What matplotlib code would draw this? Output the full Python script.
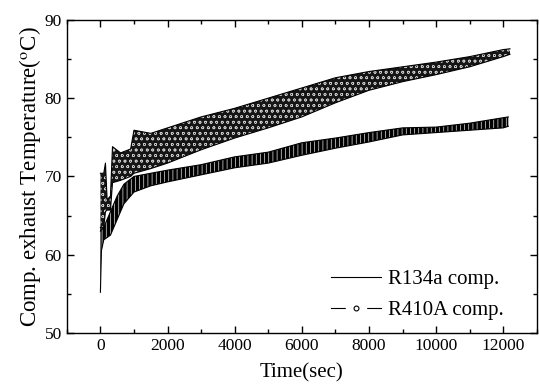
import matplotlib
matplotlib.use("Agg")
import matplotlib.pyplot as plt
from matplotlib.lines import Line2D
from matplotlib.ticker import MultipleLocator

plt.rcParams["font.family"] = ["Liberation Serif", "DejaVu Serif"]
plt.rcParams["mathtext.fontset"] = "stix"
plt.rcParams["hatch.linewidth"] = 0.45

# envelopes (time in sec, temperature in C)
t_r134a = [0, 30, 100, 300, 500, 700, 1000, 1500, 2000, 3000, 4000, 5000,
           6000, 7000, 8000, 9000, 10000, 11000, 12000, 12150]
lo_r134a = [55.2, 60.5, 61.9, 62.5, 64.5, 66.5, 68.0, 68.8, 69.3, 70.2, 71.1, 71.7,
            72.7, 73.6, 74.4, 75.3, 75.6, 75.9, 76.2, 76.4]
hi_r134a = [63.5, 63.5, 63.5, 65.5, 67.5, 69.0, 70.0, 70.4, 70.8, 71.5, 72.5, 73.1,
            74.3, 74.9, 75.6, 76.2, 76.3, 76.8, 77.5, 77.6]

t_r410a = [0, 100, 150, 200, 300, 360, 600, 900, 1000, 1500, 2000, 3000, 4000, 5000,
           6000, 7000, 8000, 9000, 10000, 11000, 12000, 12200]
lo_r410a = [63.0, 63.5, 65.5, 65.7, 65.7, 69.2, 69.5, 70.0, 70.4, 71.0, 71.7, 73.4, 74.9, 76.2,
            77.6, 79.4, 81.0, 82.1, 83.0, 84.0, 85.3, 85.6]
hi_r410a = [70.4, 70.4, 71.7, 67.0, 67.5, 73.8, 73.0, 73.5, 75.9, 75.5, 76.2, 77.6, 78.7, 80.0,
            81.3, 82.6, 83.4, 84.0, 84.6, 85.3, 86.2, 86.3]

fig = plt.figure(figsize=(5.39, 3.89), dpi=100)
ax = fig.add_axes([0.124, 0.144, 0.872, 0.805])

ax.fill_between(t_r410a, lo_r410a, hi_r410a, facecolor="#151515", edgecolor="#c8c8c8",
                hatch="ooo", linewidth=0)
ax.plot(t_r410a, lo_r410a, color="black", lw=0.8)
ax.plot(t_r410a, hi_r410a, color="black", lw=0.8)

ax.fill_between(t_r134a, lo_r134a, hi_r134a, facecolor="black", edgecolor="white",
                hatch="||||", linewidth=0)
ax.plot(t_r134a, lo_r134a, color="black", lw=0.8)
ax.plot(t_r134a, hi_r134a, color="black", lw=0.8)

ax.set_xlim(-1000, 13000)
ax.set_ylim(50, 90)
ax.xaxis.set_major_locator(MultipleLocator(2000))
ax.xaxis.set_minor_locator(MultipleLocator(1000))
ax.yaxis.set_major_locator(MultipleLocator(10))
ax.yaxis.set_minor_locator(MultipleLocator(5))
ax.tick_params(which="both", direction="in", top=True, right=True, labelsize=12.5, width=1)
ax.tick_params(which="major", length=5)
ax.tick_params(which="minor", length=3)
ax.set_xticks([0, 2000, 4000, 6000, 8000, 10000, 12000])
for s in ax.spines.values():
    s.set_linewidth(1)

ax.set_xlabel("Time(sec)", fontsize=15, labelpad=7)
ax.set_ylabel("Comp. exhaust Temperature($^{\\mathrm{o}}$C)", fontsize=16.5, labelpad=1)

h_r134a = Line2D([], [], color="black", lw=0.8)
h_r410a = (
    Line2D([], [], color="black", lw=0.8),
    Line2D([], [], ls="none", marker="s", markersize=14, markerfacecolor="white",
           markeredgecolor="white"),
    Line2D([], [], ls="none", marker="o", markersize=3.5, markerfacecolor="white",
           markeredgecolor="black", markeredgewidth=0.8),
)
ax.legend([h_r134a, h_r410a], ["R134a comp.", "R410A comp."], loc="lower right",
          bbox_to_anchor=(0.96, -0.005), frameon=False, fontsize=15, handlelength=2.4,
          handletextpad=0.3, labelspacing=0.55, borderpad=0.2)

fig.savefig("out.png", dpi=100)
